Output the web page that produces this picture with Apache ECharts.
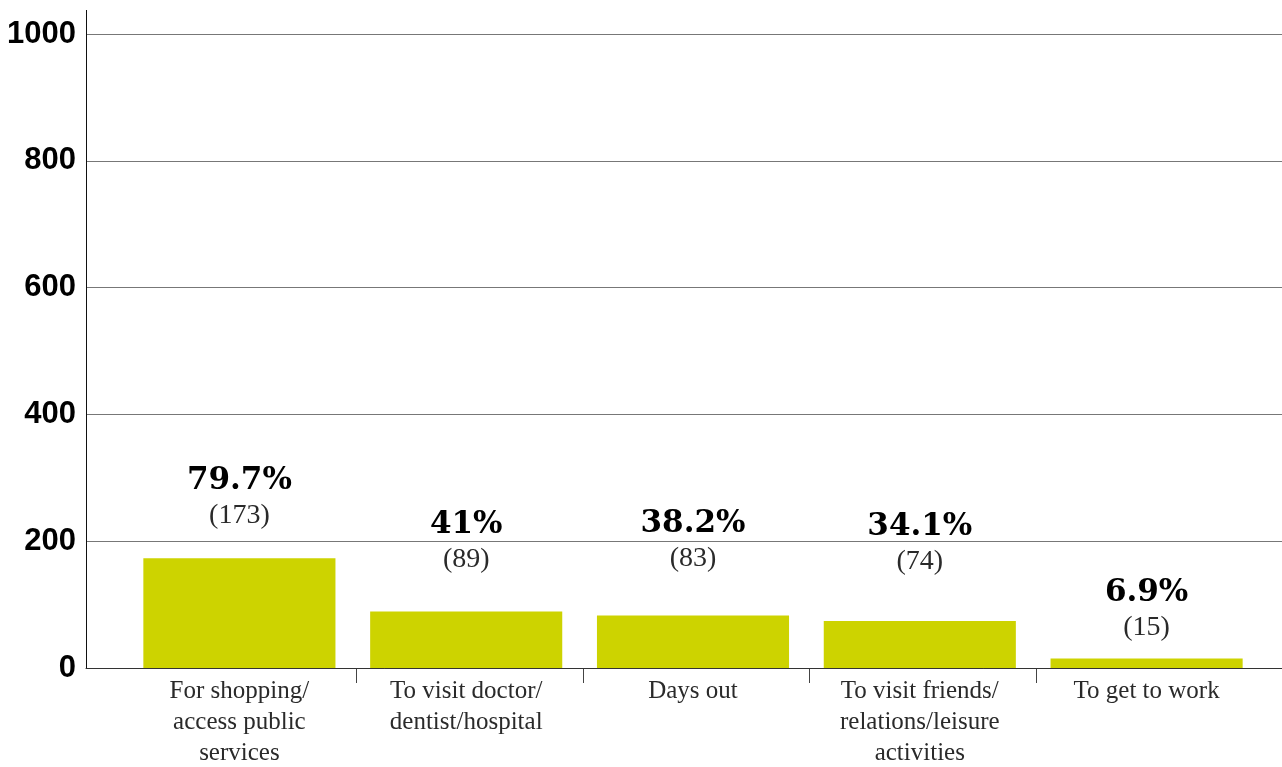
<!DOCTYPE html>
<html>
<head>
<meta charset="utf-8">
<script src="https://cdn.jsdelivr.net/npm/echarts@6/dist/echarts.min.js"></script>
<style>
html,body{margin:0;padding:0;background:#fff;}
#chart{width:1282px;height:767px;}
</style>
</head>
<body>
<div id="chart"></div>
<script>
const categories = [
  "For shopping/\naccess public\nservices",
  "To visit doctor/\ndentist/hospital",
  "Days out",
  "To visit friends/\nrelations/leisure\nactivities",
  "To get to work"
];
const counts = [173, 89, 83, 74, 15];
const percents = ["79.7%", "41%", "38.2%", "34.1%", "6.9%"];
const yTicks = [0, 200, 400, 600, 800, 1000];

const labelDistance = [25, 34, 39, 42, 13];

const chart = echarts.init(document.getElementById('chart'), null, {renderer: 'canvas'});

const GRID_TOP = 34, GRID_BOTTOM = 99;

const option = {
  animation: false,
  backgroundColor: '#ffffff',
  grid: [
    {left: 86, right: 0, top: GRID_TOP, bottom: GRID_BOTTOM, containLabel: false, outerBoundsMode: 'none'},
    {left: 126, right: 22, top: GRID_TOP, bottom: GRID_BOTTOM, containLabel: false, outerBoundsMode: 'none'}
  ],
  xAxis: [
    {
      type: 'category', gridIndex: 0, data: categories,
      axisLine: {show: true, lineStyle: {color: '#333', width: 1}},
      axisTick: {show: false}, axisLabel: {show: false}, splitLine: {show: false}
    },
    {
      type: 'category', gridIndex: 1, data: categories,
      axisLine: {show: false}, axisTick: {show: false},
      axisLabel: {
        show: true, interval: 0, margin: 8,
        fontFamily: '"Liberation Serif", serif', fontSize: 25, lineHeight: 31,
        color: '#2a2a2a', verticalAlign: 'top'
      }
    }
  ],
  yAxis: [
    {
      type: 'value', gridIndex: 0, min: yTicks[0], max: yTicks[yTicks.length - 1], interval: 200,
      axisLine: {show: true, lineStyle: {color: '#111', width: 1}},
      axisTick: {show: false},
      axisLabel: {
        margin: 10, fontFamily: '"Liberation Sans", Arial, sans-serif',
        fontWeight: 'bold', fontSize: 31, color: '#000',
        padding: [6, 0, 0, 0],
        formatter: v => String(v)
      },
      splitLine: {show: true, lineStyle: {color: '#777', width: 1}}
    },
    {
      type: 'value', gridIndex: 1, min: yTicks[0], max: yTicks[yTicks.length - 1], interval: 200,
      show: false, splitLine: {show: false}
    }
  ],
  series: [{
    type: 'bar', xAxisIndex: 1, yAxisIndex: 1,
    barWidth: '84.7%',
    itemStyle: {color: '#cdd300'},
    data: counts.map((v, i) => ({
      value: v,
      label: {distance: labelDistance[i]}
    })),
    label: {
      show: true, position: 'top',
      formatter: p => '{pct|' + percents[p.dataIndex] + '}\n{num|(' + counts[p.dataIndex] + ')}',
      rich: {
        pct: {fontFamily: '"DejaVu Serif", serif', fontWeight: 'bold', fontSize: 31, color: '#000', lineHeight: 35, align: 'center'},
        num: {fontFamily: '"Liberation Serif", serif', fontSize: 28, color: '#2a2a2a', lineHeight: 35, align: 'center'}
      }
    }
  }]
};
chart.setOption(option);

// Axis decorations: y-axis line extension above top gridline, and ticks between categories.
const graphics = [];
const top1000 = chart.convertToPixel({yAxisIndex: 0}, yTicks[yTicks.length - 1]);
const xAxisY = chart.convertToPixel({yAxisIndex: 0}, 0);
graphics.push({
  type: 'line', shape: {x1: 86.5, y1: 10, x2: 86.5, y2: top1000},
  style: {stroke: '#111', lineWidth: 1}, silent: true
});
for (let i = 0; i < categories.length - 1; i++) {
  const a = chart.convertToPixel({xAxisIndex: 1}, i);
  const b = chart.convertToPixel({xAxisIndex: 1}, i + 1);
  const x = Math.round((a + b) / 2) + 3.5;
  graphics.push({
    type: 'line', shape: {x1: x, y1: xAxisY, x2: x, y2: xAxisY + 15},
    style: {stroke: '#444', lineWidth: 1}, silent: true
  });
}
chart.setOption({graphic: graphics});
</script>
</body>
</html>
